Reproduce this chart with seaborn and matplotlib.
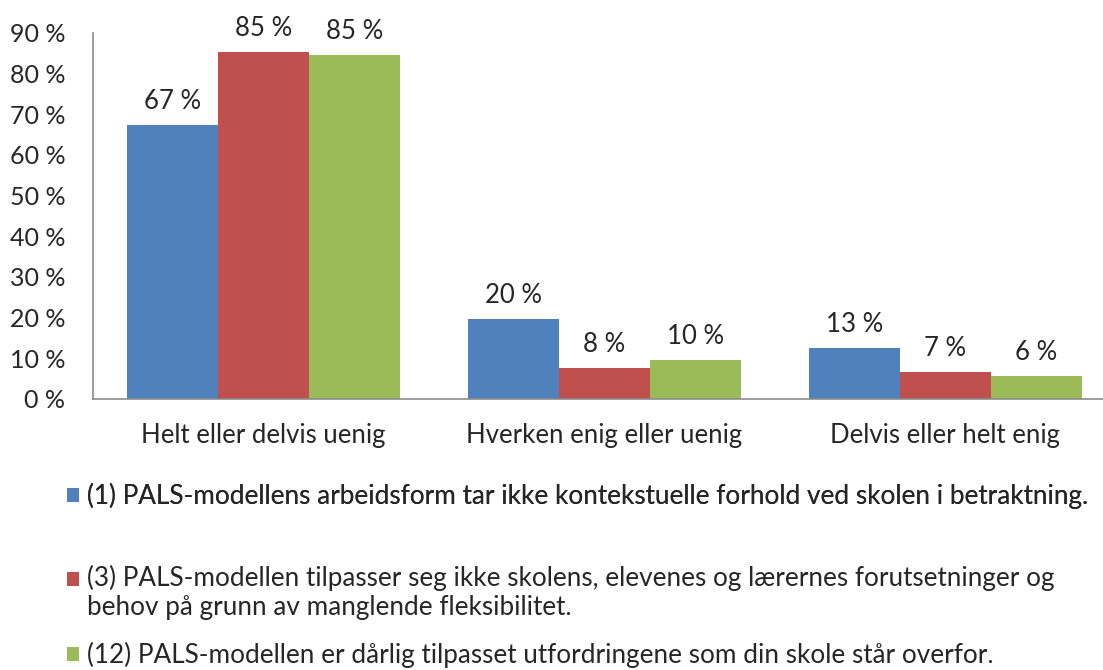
import matplotlib
matplotlib.use("Agg")
import matplotlib.pyplot as plt
from matplotlib.patches import Rectangle
from matplotlib.legend_handler import HandlerPatch
import seaborn as sns
import pandas as pd

categories = ["Helt eller delvis uenig", "Hverken enig eller uenig", "Delvis eller helt enig"]
series = [
    "(1) PALS-modellens arbeidsform tar ikke kontekstuelle forhold ved skolen i betraktning.",
    "(3) PALS-modellen tilpasser seg ikke skolens, elevenes og lærernes forutsetninger og\nbehov på grunn av manglende fleksibilitet.",
    "(12) PALS-modellen er dårlig tilpasset utfordringene som din skole står overfor.",
]
values_s1 = [67.4, 19.6, 12.6]
values_s3 = [85.2, 7.7, 6.7]
values_s12 = [84.6, 9.6, 5.6]
colors = ["#4F81BD", "#C0504D", "#9BBB59"]
yticks = [0, 10, 20, 30, 40, 50, 60, 70, 80, 90]

rows = []
for s, vals in zip(series, [values_s1, values_s3, values_s12]):
    for c, v in zip(categories, vals):
        rows.append({"category": c, "series": s, "value": v})
df = pd.DataFrame(rows)

sns.set_theme(style="white")
plt.rcParams["font.family"] = ["Lato", "DejaVu Sans"]
txt = "#262626"
FS = 18.5
LFS = 18.8

fig = plt.figure(figsize=(11.03, 6.70), dpi=100)
ax = fig.add_axes([93 / 1103, 1 - 399 / 670, 1023 / 1103, (399 - 32.7) / 670])
sns.barplot(data=df, x="category", y="value", hue="series", hue_order=series,
            order=categories, palette=colors, saturation=1, width=0.8, ax=ax, linewidth=0)

ax.set_ylim(0, 90)
ax.set_xlim(-0.5, 2.5)
ax.set_yticks(yticks)
ax.set_yticklabels([f"{t} %" for t in yticks], fontsize=18, color=txt)
ax.tick_params(axis="x", labelsize=FS, colors=txt, length=0, pad=17)
ax.tick_params(axis="y", length=0, pad=20)
ax.set_xlabel("")
ax.set_ylabel("")
for sp in ["top", "right"]:
    ax.spines[sp].set_visible(False)
for sp in ["left", "bottom"]:
    ax.spines[sp].set_color("#8c8c8c")
    ax.spines[sp].set_linewidth(1.2)

for cont in ax.containers:
    ax.bar_label(cont, labels=[f"{v:.0f} %" for v in cont.datavalues],
                 padding=8, fontsize=FS, color=txt, clip_on=False)

handles, labels = ax.get_legend_handles_labels()
ax.get_legend().remove()


def top_square(legend, orig_handle, xdescent, ydescent, width, height, fontsize):
    return Rectangle((-xdescent, -ydescent + 10), width, height)


common = dict(frameon=False, fontsize=LFS, handlelength=0.45, handleheight=0.45,
              handletextpad=0.3, labelcolor=txt, borderpad=0, borderaxespad=0)
leg1 = fig.legend(handles[:1], labels[:1], loc="center left",
                  bbox_to_anchor=(67 / 1103, 1 - 496 / 670), **common)
leg2 = fig.legend(handles[1:], labels[1:], loc="upper left", labelspacing=0.86,
                  bbox_to_anchor=(67 / 1103, 1 - 565 / 670),
                  handler_map={handles[1]: HandlerPatch(patch_func=top_square)}, **common)
for t in leg2.get_texts():
    t.set_linespacing(1.17)
fig.add_artist(leg1)

fig.savefig("out.png", dpi=100)
